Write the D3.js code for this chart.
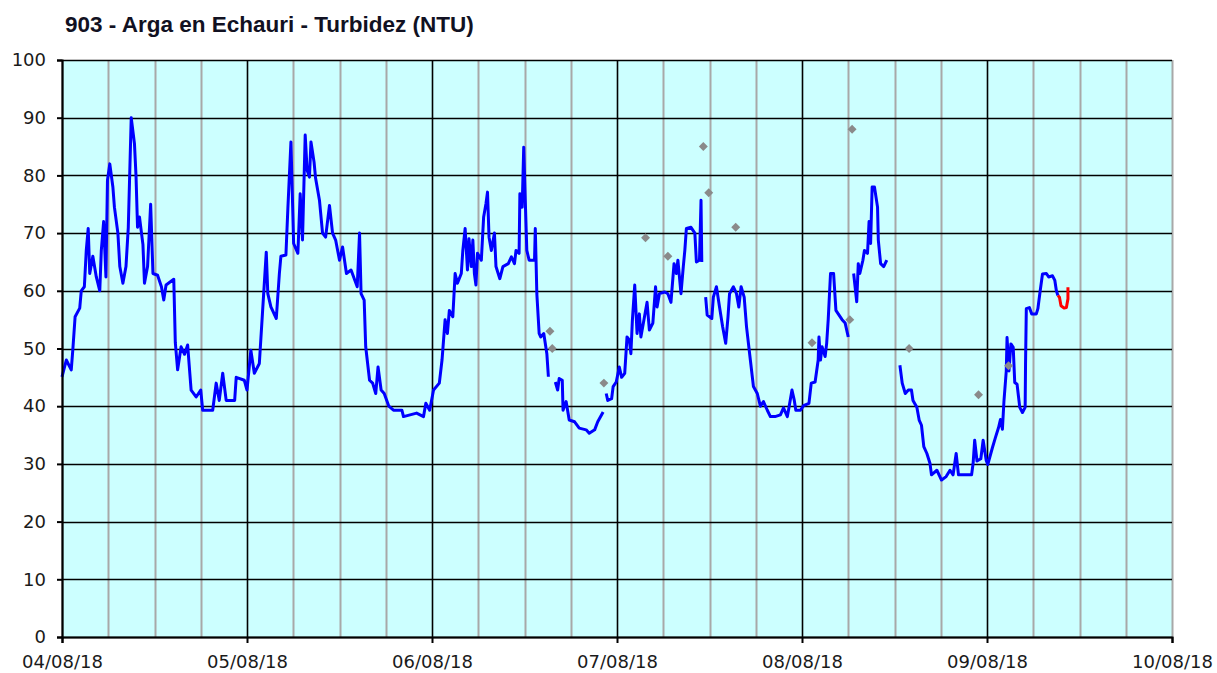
<!DOCTYPE html>
<html>
<head>
<meta charset="utf-8">
<title>903 - Arga en Echauri - Turbidez (NTU)</title>
<script src="https://cdn.jsdelivr.net/npm/d3@7"></script>
<style>
    body { margin: 0; background: #ffffff; }
    #chart { width: 1217px; height: 673px; }
</style>
</head>
<body>
<div id="chart"></div>
<script>
// datos: horas desde 04/08/18 00:00, null = hueco en la serie
var turbHours = [
    0, 0.56, 1.2, 1.4, 1.7, 2.3, 2.5, 2.9, 3.15, 3.4, 3.6, 4.0, 4.45, 4.9, 5.1, 5.4, 5.7, 5.9, 6.2, 6.6,
    6.8, 7.25, 7.5, 7.9, 8.3, 8.6, 8.98, 9.4, 9.6, 9.8, 10.05, 10.5, 10.7, 11.1, 11.5, 11.8, 12.4, 12.9, 13.2, 13.5,
    14.5, 14.7, 15, 15.45, 15.9, 16.3, 16.75, 17.4, 18, 18.25, 19.55, 20, 20.4, 20.85, 21.3, 22.4, 22.6, 23.65, 24, 24.5,
    24.95, 25.6, 26, 26.5, 26.7, 27.1, 27.8, 28.2, 28.4, 29.05, 29.3, 29.7, 30.05, 30.6, 30.9, 31.2, 31.55, 31.8, 32.1, 32.3,
    32.7, 32.9, 33.4, 33.8, 34.2, 34.7, 35.1, 35.5, 36, 36.4, 36.9, 37.5, 38, 38.3, 38.6, 38.8, 39.2, 39.4, 39.9, 40.3,
    40.7, 41, 41.4, 41.8, 42.4, 43, 44.1, 44.3, 46, 46.9, 47.2, 47.7, 48.2, 48.95, 49.3, 49.5, 49.7, 50, 50.25, 50.7,
    51, 51.3, 51.8, 52, 52.3, 52.6, 52.8, 53.1, 53.3, 53.5, 53.7, 53.9, 54.4, 54.7, 55, 55.2, 55.4, 55.7, 56.1, 56.3,
    56.8, 57.2, 57.9, 58.3, 58.7, 58.9, 59.3, 59.4, 59.7, 59.9, 60.1, 60.3, 60.6, 61.3, 61.4, 61.6, 61.9, 62.1, 62.5, 62.9,
    63.1, 63.5,
    64, 64.3, 64.5, 64.9, 65, 65.4, 65.8, 66.5, 67.1, 68, 68.4, 69.1, 69.5, 70.2, 70.4,
    70.6, 70.8, 71.3, 71.5, 71.9, 72.3, 72.6, 73, 73.3, 73.6, 73.8, 74, 74.3, 74.6, 74.9, 75.1, 75.9, 76.2, 76.65, 77,
    77.2, 77.5, 78.2, 78.6, 79, 79.4, 79.7, 79.9, 80.3, 80.6, 80.8, 81, 81.6, 82.1, 82.3, 82.7, 82.9, 83, 83.2,
    83.5, 83.7, 84.3, 84.5, 84.9, 85.3, 85.7, 86.1, 86.4, 86.6, 87.1, 87.5, 87.8, 88.1, 88.5, 88.8, 89.3, 89.7, 90.2, 90.6,
    91, 91.5, 91.9, 92.5, 93.2, 93.6, 94.1, 94.3, 94.7, 95, 95.2, 95.8, 96.2, 96.9, 97.2, 97.7, 98.1, 98.2, 98.4, 98.6,
    99, 99.2, 99.4, 99.7, 100.1, 100.4, 100.7, 101.2, 101.6, 102, 102.3,
    102.7, 103.1, 103.3, 103.5, 103.9, 104.1, 104.5, 104.7, 104.9, 105.1, 105.4, 105.8, 105.9, 106.2, 106.6, 107, 107.5,
    108.7, 109, 109.4, 109.8, 110.2, 110.4, 110.9, 111.2, 111.5, 111.8, 112.2, 112.6, 112.8, 113.5, 114.1, 114.7, 115.2, 115.6, 116, 116.3,
    118, 118.2, 118.4, 118.7, 119.2, 119.5, 119.9, 120.1, 120.7, 121.1, 121.5, 121.75, 122, 122.2, 122.5, 122.6, 122.85, 123.1, 123.4, 123.6,
    123.9, 124.25, 124.6, 124.95, 125, 125.1, 125.5, 125.8, 126.4, 126.6, 126.9, 127.2, 127.7, 128, 128.5, 128.8, 129, 129.2
];
var turbValues = [
    45.1, 48, 46.3, 49.7, 55.5, 57, 60, 60.7, 67, 70.8, 63, 66, 62.4, 60, 67, 72, 62.4, 79.2, 82, 78,
    74.5, 70, 64.2, 61.3, 64.2, 71, 90, 85.5, 80, 71, 72.8, 68, 61.3, 64.2, 75, 63, 62.7, 60.7, 58.4, 61,
    62, 51, 46.3, 50.3, 49, 50.6, 42.8, 41.6, 42.8, 39.3, 39.3, 44, 41, 45.7, 41, 41, 45, 44.5, 42.8, 49.7,
    45.7, 47.4, 56, 66.7, 59.5, 57.2, 55.2, 63, 66, 66.2, 74.2, 85.8, 68.2, 66.5, 76.8, 68.8, 87, 80.9, 79.7, 85.8,
    82.3, 79.5, 75.7, 70, 69.3, 74.8, 70, 68.8, 65.3, 67.6, 63, 63.6, 61.8, 60.7, 70, 59.5, 58.4, 50.3, 44.5, 44,
    42.2, 46.8, 42.8, 42.2, 40, 39.3, 39.3, 38.2, 38.8, 38.2, 40.5, 39.3, 42.8, 44, 48, 51.5, 55, 52.6, 56.6, 55.5,
    63, 61.3, 63, 67, 70.8, 63.6, 69, 64.2, 68.8, 63, 61, 66.5, 65.3, 72.8, 75.1, 77.1, 69.3, 67, 70, 64.2,
    62.1, 64.2, 64.7, 65.9, 64.7, 67, 66.5, 76.8, 74.5, 84.9, 75.7, 67, 65.3, 65.3, 70.8, 59.5, 52.6, 52, 52.6, 49.1,
    45.1, null,
    44.2, 42.8, 44.8, 44.5, 39.3, 40.8, 37.6, 37.3, 36.2, 35.9, 35.3, 35.9, 37.3, 39, null,
    42.2, 41, 41.3, 43.4, 44.2, 46.8, 45, 45.7, 52, 51.5, 49.1, 55, 61, 52.6, 56, 52, 58, 53.2, 54.4, 60.7,
    57.2, 59.5, 59.8, 59.5, 58, 64.7, 63, 65.3, 59.5, 64.2, 67, 70.8, 71, 70, 65, 65.3, 75.7, 65, null,
    58.9, 55.8, 55.2, 58.9, 60.7, 57.2, 53.8, 50.9, 55.5, 59.5, 60.7, 59.5, 57.2, 60.7, 58.9, 53.8, 48, 43.4, 42.2, 40,
    40.8, 39.3, 38.2, 38.2, 38.5, 39.7, 38.2, 39.7, 42.8, 41, 39.3, 39.3, 40.1, 40.5, 44, 44.2, 48, 52, 48, 50.3,
    48.6, 50.9, 55, 63, 63, 56.6, 56, 55, 54.4, 52, null,
    63, 58.1, 64.7, 63, 65.3, 67, 66.5, 72, 68.2, 78, 78, 74.5, 68.8, 64.7, 64.2, 65.3, null,
    47.1, 44, 42.2, 42.8, 42.8, 41, 39.8, 37.6, 36.7, 33, 31.8, 30.1, 28.1, 28.9, 27.2, 27.8, 28.9, 28.1, 31.8, 28.1,
    28.1, 30.1, 34.1, 30.5, 30.9, 34.1, 30.6, 29.9, 32.8, 34.6, 36.3, 37.7, 36, 40.9, 46.1, 51.9, 46.1, 50.8, 50.2, 44.1,
    43.8, 39.8, 38.9, 39.8, 47.3, 56.9, 57.1, 56, 56, 56.9, 60, 62.9, 63, 62.4, 62.6, 61.8, 60, 59.2
];
// últimos valores (rojo)
var lastHours = [129.2, 129.4, 129.6, 130, 130.3, 130.5, 130.5];
var lastValues = [59.2, 58.9, 57.4, 57, 57.1, 58.6, 60.6];
// muestras puntuales (rombos grises)
var sampleHours = [63.3, 63.6, 70.3, 75.7, 78.6, 83.2, 83.9, 87.4, 97.3, 102.2, 102.5, 109.9, 118.9, 122.8];
var sampleValues = [53, 50, 44, 69.2, 66, 85, 77, 71, 51, 55, 88, 50, 42, 47];

var yTicks = [0, 10, 20, 30, 40, 50, 60, 70, 80, 90, 100];
var chartTitle = "903 - Arga en Echauri - Turbidez (NTU)";

var startDate = new Date(2018, 7, 4);
var endDate = new Date(2018, 7, 10);

function toDate(h) {
    return new Date(startDate.getTime() + h * 3600 * 1000);
}

function drawChart() {
    var width = 1217,
        height = 673;
    var layout = { left: 62, right: 1172, top: 60, bottom: 637 };

    var svg = d3.select("#chart").append("svg")
        .attr("width", width)
        .attr("height", height);

    // escalas
    var xScale = d3.scaleTime()
        .domain([startDate, endDate])
        .range([layout.left, layout.right]);
    var yScale = d3.scaleLinear()
        .domain([0, 100])
        .range([layout.bottom, layout.top]);

    // fondo del área
    svg.append("rect")
        .attr("x", layout.left)
        .attr("y", layout.top)
        .attr("width", layout.right - layout.left)
        .attr("height", layout.bottom - layout.top)
        .attr("fill", "#ccffff");

    // rejilla secundaria cada 6 horas
    var minorTicks = d3.timeHour.every(6).range(startDate, d3.timeHour.offset(endDate, 1))
        .filter(function(d) { return d.getHours() !== 0 || +d === +endDate; });
    svg.append("g")
        .attr("class", "minorGrid")
        .selectAll("line")
        .data(minorTicks)
        .enter()
        .append("line")
        .attr("x1", function(d) { return Math.round(xScale(d)) + 0.5; })
        .attr("x2", function(d) { return Math.round(xScale(d)) + 0.5; })
        .attr("y1", layout.top)
        .attr("y2", layout.bottom)
        .attr("stroke", "#a8a8a8")
        .attr("stroke-width", 2);

    // rejilla principal
    var dayTicks = d3.timeDay.range(startDate, endDate);
    svg.append("g")
        .attr("class", "majorGridX")
        .selectAll("line")
        .data(dayTicks)
        .enter()
        .append("line")
        .attr("x1", function(d) { return Math.round(xScale(d)) + 0.5; })
        .attr("x2", function(d) { return Math.round(xScale(d)) + 0.5; })
        .attr("y1", layout.top)
        .attr("y2", layout.bottom)
        .attr("stroke", "#000")
        .attr("stroke-width", 1.6);

    svg.append("g")
        .attr("class", "majorGridY")
        .selectAll("line")
        .data(yTicks)
        .enter()
        .append("line")
        .attr("x1", layout.left)
        .attr("x2", layout.right)
        .attr("y1", function(d) { return Math.round(yScale(d)) + 0.5; })
        .attr("y2", function(d) { return Math.round(yScale(d)) + 0.5; })
        .attr("stroke", "#000")
        .attr("stroke-width", 1.6);

    // serie principal
    var points = turbHours.map(function(h, i) {
        return { t: toDate(h), v: turbValues[i] };
    });
    var line = d3.line()
        .defined(function(d) { return d.v !== null; })
        .x(function(d) { return xScale(d.t); })
        .y(function(d) { return yScale(d.v); });

    svg.append("path")
        .datum(points)
        .attr("fill", "none")
        .attr("stroke", "#0000ff")
        .attr("stroke-width", 3)
        .attr("stroke-linejoin", "round")
        .attr("d", line);

    var lastPoints = lastHours.map(function(h, i) {
        return { t: toDate(h), v: lastValues[i] };
    });
    svg.append("path")
        .datum(lastPoints)
        .attr("fill", "none")
        .attr("stroke", "#ff0000")
        .attr("stroke-width", 3)
        .attr("stroke-linejoin", "round")
        .attr("d", line);

    // muestras
    var samples = sampleHours.map(function(h, i) {
        return { t: toDate(h), v: sampleValues[i] };
    });
    svg.append("g")
        .attr("class", "samples")
        .selectAll("path")
        .data(samples)
        .enter()
        .append("path")
        .attr("d", d3.symbol().type(d3.symbolSquare).size(40))
        .attr("transform", function(d) {
            return "translate(" + xScale(d.t) + "," + yScale(d.v) + ") rotate(45)";
        })
        .attr("fill", "#8a8a8a");

    // ejes
    var yAxis = d3.axisLeft(yScale)
        .tickValues(yTicks)
        .tickSize(5)
        .tickPadding(11);
    var yAxis_g = svg.append("g")
        .attr("transform", "translate(" + layout.left + ",0)")
        .call(yAxis);

    var xAxis = d3.axisBottom(xScale)
        .ticks(d3.timeDay.every(1))
        .tickFormat(d3.timeFormat("%d/%m/%y"))
        .tickSize(6)
        .tickPadding(12);
    var xAxis_g = svg.append("g")
        .attr("transform", "translate(0," + layout.bottom + ")")
        .call(xAxis);

    [yAxis_g, xAxis_g].forEach(function(g) {
        g.select(".domain").attr("stroke", "#000").attr("stroke-width", 2);
        g.selectAll(".tick line").attr("stroke", "#000").attr("stroke-width", 2);
        g.selectAll(".tick text")
            .style("font-family", "'DejaVu Sans', Verdana, sans-serif")
            .style("font-size", "18px")
            .attr("fill", "#1a1a1a");
    });

    // título
    svg.append("text")
        .attr("x", 65)
        .attr("y", 32)
        .style("font-family", "'Liberation Sans', Arial, sans-serif")
        .style("font-weight", "bold")
        .style("font-size", "22.5px")
        .attr("fill", "#111122")
        .text(chartTitle);
}

drawChart();
</script>
</body>
</html>
